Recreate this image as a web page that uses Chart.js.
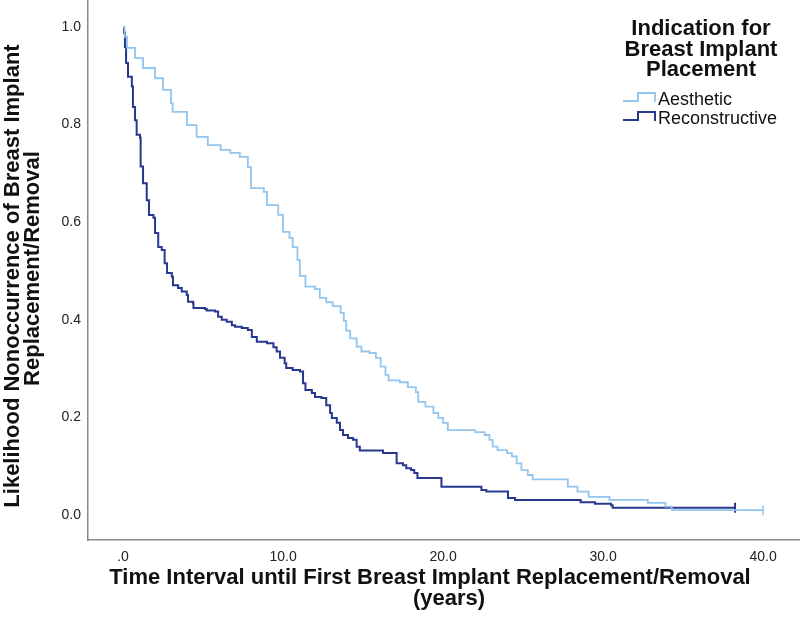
<!DOCTYPE html>
<html><head><meta charset="utf-8">
<script src="https://cdn.jsdelivr.net/npm/chart.js@4.4.1/dist/chart.umd.min.js"></script>
<style>html,body{margin:0;padding:0;background:#fff;overflow:hidden}#wrap{width:800px;height:621px;position:relative}</style>
</head><body><div id="wrap"><canvas id="c" width="800" height="621"></canvas></div>
<script>
// ---- data (Kaplan-Meier steps: time in years, survival after the drop) ----
const AESTHETIC_TIME = [0,0.1,0.25,0.75,1.25,2.0,2.5,3.0,3.1,4.0,4.6,5.3,6.1,6.7,7.3,7.8,8.0,8.8,9.0,9.7,10.0,10.4,10.6,10.9,11.05,11.4,12.0,12.3,12.7,13.1,13.6,13.8,13.95,14.2,14.6,14.9,15.4,15.8,16.1,16.4,16.6,17.3,17.8,18.3,18.45,18.9,19.4,19.7,20.0,20.3,22.0,22.6,22.9,23.1,23.4,24.0,24.3,24.6,24.9,25.3,25.6,27.8,28.4,29.1,30.4,32.8,33.9,34.3,40.0];
const AESTHETIC_SURV = [1.0,0.98,0.957,0.936,0.916,0.895,0.871,0.844,0.826,0.799,0.775,0.758,0.748,0.742,0.734,0.713,0.670,0.662,0.635,0.615,0.580,0.568,0.549,0.523,0.490,0.468,0.463,0.445,0.436,0.428,0.414,0.398,0.378,0.362,0.345,0.335,0.332,0.322,0.304,0.287,0.276,0.272,0.262,0.252,0.232,0.222,0.209,0.199,0.189,0.174,0.170,0.164,0.154,0.140,0.133,0.127,0.120,0.106,0.092,0.082,0.073,0.058,0.048,0.037,0.031,0.025,0.017,0.010,0.010];
const RECON_TIME = [0,0.06,0.12,0.19,0.31,0.55,0.62,0.75,0.85,1.06,1.1,1.25,1.48,1.62,1.9,2.0,2.2,2.42,2.6,2.75,3.05,3.12,3.44,3.67,3.98,4.06,4.38,4.4,5.12,5.23,5.75,5.94,6.17,6.48,6.8,7.0,7.42,7.8,8.05,8.36,9.0,9.4,9.6,9.81,10.1,10.2,10.6,11.06,11.25,11.4,11.8,12.0,12.4,12.7,12.94,13.05,13.36,13.56,13.75,14.06,14.375,14.6,14.8,16.25,17.1,17.5,17.7,18.0,18.2,18.4,19.9,22.4,22.7,24.06,24.5,28.6,29.5,30.5,30.6,38.25];
const RECON_SURV = [1.0,0.988,0.959,0.926,0.898,0.878,0.836,0.809,0.779,0.773,0.714,0.680,0.645,0.615,0.609,0.578,0.549,0.543,0.516,0.496,0.488,0.471,0.465,0.458,0.451,0.437,0.434,0.424,0.422,0.419,0.417,0.406,0.400,0.396,0.389,0.386,0.383,0.379,0.365,0.355,0.352,0.344,0.335,0.322,0.311,0.301,0.297,0.294,0.270,0.256,0.250,0.242,0.240,0.225,0.209,0.199,0.189,0.174,0.164,0.158,0.154,0.140,0.132,0.127,0.106,0.102,0.096,0.092,0.086,0.076,0.058,0.051,0.048,0.035,0.031,0.026,0.023,0.020,0.015,0.015];
const SERIES_NAMES = ['Aesthetic', 'Reconstructive'];
const LEGEND_TITLE = ['Indication for', 'Breast Implant', 'Placement'];
const X_TICKS = [0, 10, 20, 30, 40];
const X_TICK_LABELS = ['.0', '10.0', '20.0', '30.0', '40.0'];
const Y_TICKS = [0, 0.2, 0.4, 0.6, 0.8, 1.0];
const Y_TICK_LABELS = ['0.0', '0.2', '0.4', '0.6', '0.8', '1.0'];
const X_TITLE = ['Time Interval until First Breast Implant Replacement/Removal', '(years)'];
const Y_TITLE = ['Likelihood Nonoccurrence of Breast Implant', 'Replacement/Removal'];

// ---- styling ----
const FONT = '"Liberation Sans", Arial, sans-serif';
const COLOR_AES = '#93c6ef';
const COLOR_REC = '#28388e';

const toPoints = (ts, ss) => ts.map((t, i) => ({ x: t, y: ss[i] }));
const censorRadius = (c) => (c.dataIndex === c.dataset.data.length - 1 ? 5 : 0);
const noPad = (s) => { s.paddingTop = 0; s.paddingBottom = 0; s.paddingLeft = 0; s.paddingRight = 0; };

const titlesAndLegend = {
  id: 'titlesAndLegend',
  afterDraw(chart) {
    const ctx = chart.ctx;
    ctx.save();
    ctx.fillStyle = '#111';
    ctx.textBaseline = 'alphabetic';
    ctx.textAlign = 'center';
    ctx.font = 'bold 22px ' + FONT;
    LEGEND_TITLE.forEach((line, i) => ctx.fillText(line, 701, 35 + i * 20.5));
    ctx.fillText(X_TITLE[0], 430, 584);
    ctx.fillText(X_TITLE[1], 449, 605);
    ctx.save();
    ctx.rotate(-Math.PI / 2);
    ctx.fillText(Y_TITLE[0], -276, 18.5);
    ctx.fillText(Y_TITLE[1], -268.5, 38.5);
    ctx.restore();
    // legend entries with step symbols
    ctx.font = '18px ' + FONT;
    ctx.textAlign = 'left';
    const baselines = [105, 124];
    chart.data.datasets.forEach((ds, i) => {
      const b = baselines[i];
      const lo = b - 4, hi = b - 12;
      ctx.strokeStyle = ds.borderColor;
      ctx.lineWidth = ds.borderWidth;
      ctx.beginPath();
      ctx.moveTo(623, lo);
      ctx.lineTo(638, lo);
      ctx.lineTo(638, hi);
      ctx.lineTo(655, hi);
      ctx.lineTo(655, lo + 1);
      ctx.stroke();
      ctx.fillStyle = '#111';
      ctx.fillText(ds.label, 658, b);
    });
    ctx.restore();
  }
};

new Chart(document.getElementById('c'), {
  type: 'line',
  data: {
    datasets: [
      {
        label: SERIES_NAMES[0],
        data: toPoints(AESTHETIC_TIME, AESTHETIC_SURV),
        borderColor: COLOR_AES,
        backgroundColor: COLOR_AES,
        borderWidth: 1.8,
        stepped: 'before',
        fill: false,
        pointStyle: 'line',
        rotation: 90,
        pointRadius: censorRadius,
        pointBorderWidth: 1.5,
        pointBorderColor: COLOR_AES
      },
      {
        label: SERIES_NAMES[1],
        data: toPoints(RECON_TIME, RECON_SURV),
        borderColor: COLOR_REC,
        backgroundColor: COLOR_REC,
        borderWidth: 2,
        stepped: 'before',
        fill: false,
        pointStyle: 'line',
        rotation: 90,
        pointRadius: censorRadius,
        pointBorderWidth: 2,
        pointBorderColor: COLOR_REC
      }
    ]
  },
  options: {
    responsive: false,
    devicePixelRatio: 1,
    animation: false,
    layout: { padding: 0, autoPadding: false },
    plugins: { legend: { display: false }, tooltip: { enabled: false }, title: { display: false } },
    scales: {
      x: {
        type: 'linear',
        min: -2.19,
        max: 42.31,
        grid: { display: false, drawTicks: false },
        border: { display: true, color: '#8a8a8a', width: 1.5 },
        afterBuildTicks: (s) => { s.ticks = X_TICKS.map((v) => ({ value: v })); },
        afterFit: (s) => { s.height = 81; noPad(s); },
        ticks: {
          padding: 9,
          maxRotation: 0,
          autoSkip: false,
          color: '#222',
          font: { family: FONT, size: 14 },
          callback: (v) => X_TICK_LABELS[X_TICKS.indexOf(v)]
        }
      },
      y: {
        type: 'linear',
        min: -0.0512,
        max: 1.0553,
        grid: { display: false, drawTicks: false },
        border: { display: true, color: '#8a8a8a', width: 1.5 },
        afterBuildTicks: (s) => { s.ticks = Y_TICKS.map((v) => ({ value: v })); },
        afterFit: (s) => { s.width = 88; noPad(s); },
        ticks: {
          padding: 7,
          autoSkip: false,
          color: '#222',
          font: { family: FONT, size: 14 },
          callback: (v) => Y_TICK_LABELS[Y_TICKS.indexOf(v)]
        }
      }
    }
  },
  plugins: [titlesAndLegend]
});
</script></body></html>
